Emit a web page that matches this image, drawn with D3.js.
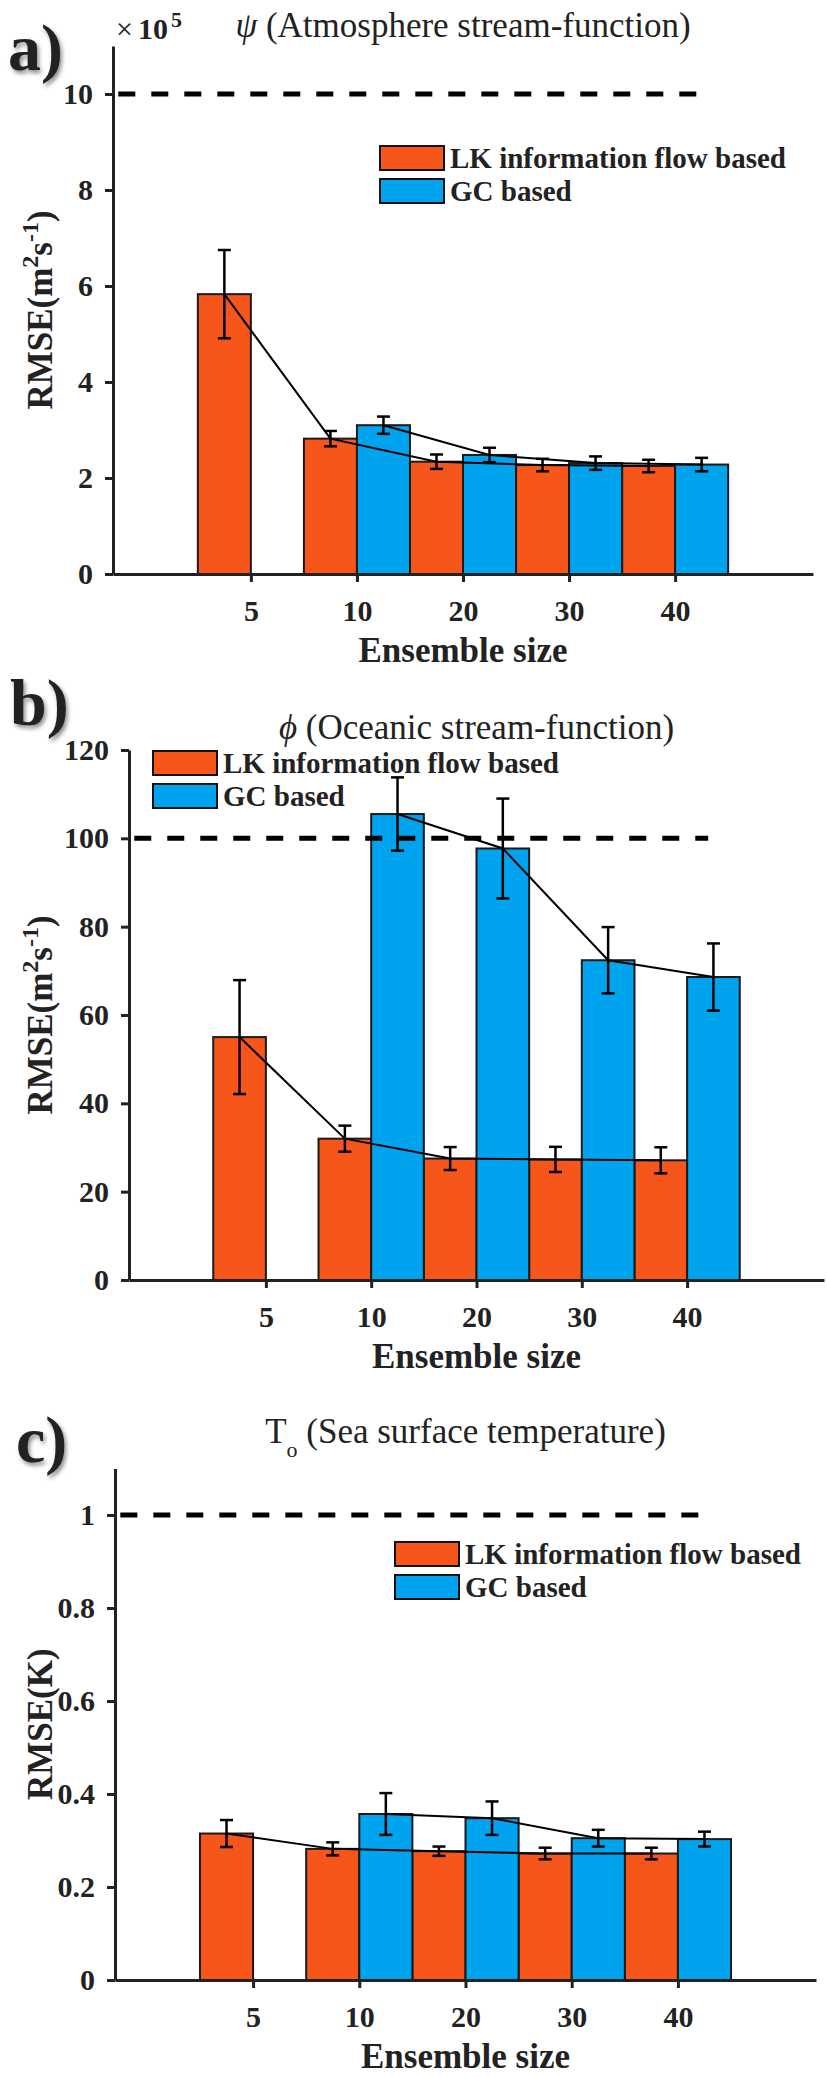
<!DOCTYPE html>
<html><head><meta charset="utf-8">
<script src="https://cdn.jsdelivr.net/npm/d3@7"></script>
<style>
body{margin:0;background:#fff;}
svg text{font-family:"Liberation Serif","Times New Roman",serif;fill:#222;}
</style></head><body>
<svg id="chart" width="827" height="2077"></svg>
<script>
// ---------- DATA ----------
const ensembleSizes = ["5", "10", "20", "30", "40"];
const seriesNames = ["LK information flow based", "GC based"];

// a) psi, units of 1e5 m^2 s^-1
const psiLK    = [5.83, 2.82, 2.34, 2.27, 2.25];
const psiLKErr = [0.92, 0.16, 0.15, 0.13, 0.13];
const psiGC    = [null, 3.10, 2.48, 2.31, 2.28];
const psiGCErr = [null, 0.18, 0.15, 0.14, 0.14];
const psiTicks = [0, 2, 4, 6, 8, 10];
const psiRef = 10;

// b) phi
const phiLK    = [55.0, 32.0, 27.5, 27.3, 27.1];
const phiLKErr = [12.9, 2.95, 2.6, 2.85, 2.95];
const phiGC    = [null, 105.5, 97.7, 72.4, 68.6];
const phiGCErr = [null, 8.3, 11.3, 7.5, 7.6];
const phiTicks = [0, 20, 40, 60, 80, 100, 120];
const phiRef = 100;

// c) SST
const sstLK    = [0.315, 0.282, 0.277, 0.272, 0.272];
const sstLKErr = [0.029, 0.014, 0.010, 0.0125, 0.0125];
const sstGC    = [null, 0.357, 0.348, 0.305, 0.303];
const sstGCErr = [null, 0.045, 0.036, 0.018, 0.016];
const sstTicks = [0, 0.2, 0.4, 0.6, 0.8, 1];
const sstTickLabels = ["0", "0.2", "0.4", "0.6", "0.8", "1"];
const sstRef = 1;

// ---------- STYLE ----------
const colLK = "#F6561A", colGC = "#00A3EE", ink = "#222";
const svg = d3.select("#chart");
const defs = svg.append("defs");
const f = defs.append("filter").attr("id", "shadow").attr("x", "-20%").attr("y", "-20%").attr("width", "160%").attr("height", "160%");
f.append("feDropShadow").attr("dx", 2).attr("dy", 3).attr("stdDeviation", 2).attr("flood-color", "#000").attr("flood-opacity", 0.45);

function drawPanel(p) {
  const g = svg.append("g");
  const x = d3.scaleLinear().domain([-0.3, 6.3]).range([p.x0, p.x1]);
  const y = d3.scaleLinear().domain([0, p.yMax]).range([p.y0, p.yTop]);
  const idx = d3.range(1, ensembleSizes.length + 1);

  // panel letter
  g.append("text").attr("x", p.letterX).attr("y", p.letterY).attr("font-size", 66).attr("font-weight", "bold")
    .attr("filter", "url(#shadow)").text(p.letter);

  // title
  const t = g.append("text").attr("x", (p.x0 + p.x1) / 2).attr("y", p.titleY).attr("text-anchor", "middle").attr("font-size", 35);
  p.title(t);

  // bars
  const series = [
    {vals: p.lk, err: p.lkErr, col: colLK, off: -0.5},
    {vals: p.gc, err: p.gcErr, col: colGC, off: 0}
  ];
  series.forEach(s => {
    g.selectAll(null).data(idx.filter((i, k) => s.vals[k] != null)).enter().append("rect")
      .attr("x", i => x(i + s.off)).attr("width", i => x(i + s.off + 0.5) - x(i + s.off))
      .attr("y", i => y(s.vals[i - 1])).attr("height", i => y(0) - y(s.vals[i - 1]))
      .attr("fill", s.col).attr("stroke", "#1a1a1a").attr("stroke-width", 2);
  });

  // reference dashed line
  g.append("line").attr("x1", x(-0.25)).attr("x2", x(5.2)).attr("y1", y(p.ref)).attr("y2", y(p.ref))
    .attr("stroke", "#000").attr("stroke-width", 5).attr("stroke-dasharray", "17,16");

  // connecting lines + error bars
  series.forEach(s => {
    const pts = idx.filter((i, k) => s.vals[k] != null).map(i => [x(i + s.off + 0.25), y(s.vals[i - 1]), i]);
    g.append("path").attr("d", d3.line()(pts.map(d => [d[0], d[1]]))).attr("fill", "none")
      .attr("stroke", "#000").attr("stroke-width", 2);
    pts.forEach(d => {
      const v = s.vals[d[2] - 1], e = s.err[d[2] - 1];
      const eg = g.append("g").attr("stroke", "#000").attr("stroke-width", 2.5);
      eg.append("line").attr("x1", d[0]).attr("x2", d[0]).attr("y1", y(v - e)).attr("y2", y(v + e));
      eg.append("line").attr("x1", d[0] - 6.5).attr("x2", d[0] + 6.5).attr("y1", y(v - e)).attr("y2", y(v - e));
      eg.append("line").attr("x1", d[0] - 6.5).attr("x2", d[0] + 6.5).attr("y1", y(v + e)).attr("y2", y(v + e));
    });
  });

  // axes
  const ya = g.append("g").attr("transform", `translate(${p.x0},0)`)
    .call(d3.axisLeft(y).tickValues(p.ticks).tickFormat((d, k) => p.tickLabels ? p.tickLabels[k] : d)
      .tickSize(8).tickSizeOuter(0).tickPadding(12));
  const xa = g.append("g").attr("transform", `translate(0,${p.y0})`)
    .call(d3.axisBottom(x).tickValues(idx).tickFormat(i => ensembleSizes[i - 1])
      .tickSize(8).tickSizeOuter(0).tickPadding(18));
  [ya, xa].forEach(a => {
    a.select(".domain").attr("stroke", ink).attr("stroke-width", 3);
    a.selectAll(".tick line").attr("stroke", ink).attr("stroke-width", 3);
    a.selectAll(".tick text").attr("font-size", 30).attr("font-weight", "bold").attr("fill", ink)
      .style("font-family", '"Liberation Serif","Times New Roman",serif');
  });

  // axis labels
  g.append("text").attr("x", (p.x0 + p.x1) / 2).attr("y", p.y0 + 88).attr("text-anchor", "middle")
    .attr("font-size", 35).attr("font-weight", "bold").text("Ensemble size");
  const yl = g.append("text").attr("transform", `translate(52,${(p.y0 + p.yTop) / 2}) rotate(-90)`)
    .attr("text-anchor", "middle").attr("font-size", 35).attr("font-weight", "bold");
  p.ylabel(yl);

  // legend
  seriesNames.forEach((n, k) => {
    const ly = p.legY + k * 33;
    g.append("rect").attr("x", p.legX).attr("y", ly).attr("width", 64).attr("height", 24)
      .attr("fill", k === 0 ? colLK : colGC).attr("stroke", "#111").attr("stroke-width", 2);
    g.append("text").attr("x", p.legX + 70).attr("y", ly + 22).attr("font-size", 29).attr("font-weight", "bold").text(n);
  });
  if (p.extra) p.extra(g);
}

function unitLabel(t) {
  t.append("tspan").text("RMSE(m");
  t.append("tspan").attr("font-size", 24).attr("dy", -14).text("2");
  t.append("tspan").attr("dy", 14).text("s");
  t.append("tspan").attr("font-size", 24).attr("dy", -14).text("-1");
  t.append("tspan").attr("dy", 14).text(")");
}

drawPanel({
  letter: "a)", letterX: 8, letterY: 70,
  x0: 113, x1: 813, y0: 574, yTop: 46, yMax: 11,
  lk: psiLK, lkErr: psiLKErr, gc: psiGC, gcErr: psiGCErr, ticks: psiTicks, ref: psiRef,
  titleY: 37,
  title: t => { t.append("tspan").attr("font-style", "italic").text("ψ"); t.append("tspan").text(" (Atmosphere stream-function)"); },
  ylabel: unitLabel,
  legX: 380, legY: 146,
  extra: g => {
    g.append("text").attr("x", 116).attr("y", 39).attr("font-size", 30).text("×");
    g.append("text").attr("x", 138).attr("y", 39).attr("font-size", 30).attr("font-weight", "bold").text("10");
    g.append("text").attr("x", 171).attr("y", 27).attr("font-size", 22).attr("font-weight", "bold").text("5");
  }
});

drawPanel({
  letter: "b)", letterX: 10, letterY: 725,
  x0: 129, x1: 824, y0: 1280, yTop: 750, yMax: 120,
  lk: phiLK, lkErr: phiLKErr, gc: phiGC, gcErr: phiGCErr, ticks: phiTicks, ref: phiRef,
  titleY: 739,
  title: t => { t.append("tspan").attr("font-style", "italic").text("ϕ"); t.append("tspan").text(" (Oceanic stream-function)"); },
  ylabel: unitLabel,
  legX: 153, legY: 751
});

drawPanel({
  letter: "c)", letterX: 16, letterY: 1462,
  x0: 115, x1: 816, y0: 1980, yTop: 1468.5, yMax: 1.1,
  lk: sstLK, lkErr: sstLKErr, gc: sstGC, gcErr: sstGCErr, ticks: sstTicks, tickLabels: sstTickLabels, ref: sstRef,
  titleY: 1443,
  title: t => {
    t.append("tspan").text("T");
    t.append("tspan").attr("font-size", 22).attr("dy", 14).text("o");
    t.append("tspan").attr("dy", -14).text(" (Sea surface temperature)");
  },
  ylabel: t => t.text("RMSE(K)"),
  legX: 395, legY: 1542
});
</script>
</body></html>
